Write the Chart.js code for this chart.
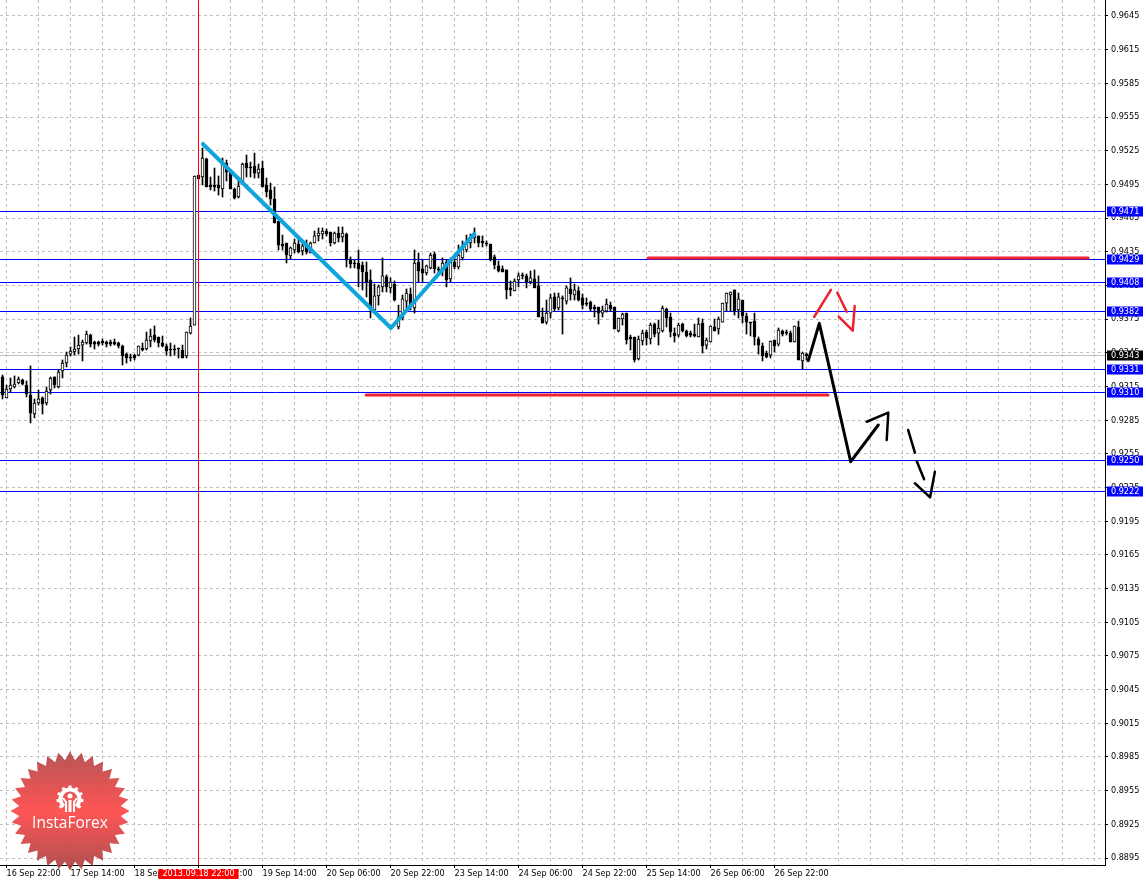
<!DOCTYPE html>
<html>
<head>
<meta charset="utf-8">
<title>H1 chart</title>
<script src="https://cdn.jsdelivr.net/npm/chart.js@4/dist/chart.umd.min.js"></script>
<style>
html, body { margin: 0; padding: 0; background: #fff; }
canvas { display: block; }
</style>
</head>
<body>
<canvas id="chart" width="1146" height="882"></canvas>
<script>
// One bar per hour
const opens = [
  .93235,.93048,.93128,.93146,.93181,.93208,.93163,.93074,.92905,.93003,
  .93048,.93003,.93119,.93235,.93146,.93288,.93359,.93439,.93457,.93484,
  .93519,.93537,.93608,.93546,.93546,.93555,.93546,.93546,.93546,.93537,
  .93511,.93439,.93413,.93430,.93430,.93493,.93484,.93555,.93608,.93591,
  .93537,.93511,.93484,.93484,.93493,.93475,.93422,.93626,.93697,.95033,
  .95016,.95176,.94944,.94944,.94944,.94909,.95140,.95060,.94909,.94838,
  .94971,.95140,.95105,.95114,.95051,.95096,.94944,.94900,.94820,.94624,
  .94419,.94428,.94313,.94366,.94419,.94357,.94410,.94339,.94428,.94491,
  .94508,.94535,.94526,.94428,.94517,.94482,.94508,.94277,.94250,.94250,
  .94232,.94170,.94099,.93831,.93957,.94037,.94126,.94028,.94063,.93680,
  .93760,.93911,.93974,.93849,.94259,.94197,.94161,.94206,.94330,.94197,
  .94197,.94259,.94108,.94259,.94215,.94295,.94366,.94428,.94473,.94491,
  .94446,.94428,.94419,.94304,.94224,.94197,.94188,.94028,.94001,.94099,
  .94143,.94135,.94081,.94108,.94046,.93769,.93724,.93804,.93948,.93849,
  .93939,.93911,.94019,.93965,.94001,.93939,.93893,.93902,.93858,.93858,
  .93804,.93822,.93875,.93858,.93644,.93751,.93804,.93591,.93591,.93395,
  .93555,.93635,.93573,.93706,.93626,.93644,.93840,.93769,.93626,.93608,
  .93706,.93644,.93626,.93617,.93591,.93715,.93519,.93546,.93680,.93662,
  .93724,.93893,.93965,.94010,.93831,.93920,.93778,.93724,.93733,.93573,
  .93511,.93448,.93430,.93564,.93528,.93644,.93635,.93626,.93546,.93680,
  .93377,.93439
];
const highs = [
  .93252,.93163,.93226,.93244,.93235,.93217,.93199,.93333,.93039,.93119,
  .93057,.93146,.93235,.93235,.93297,.93386,.93457,.93502,.93591,.93608,
  .93564,.93644,.93617,.93555,.93555,.93573,.93555,.93564,.93573,.93546,
  .93519,.93448,.93439,.93439,.93511,.93537,.93635,.93662,.93689,.93591,
  .93600,.93528,.93537,.93519,.93493,.93519,.93635,.93760,.95025,.95033,
  .95274,.95185,.95016,.95096,.95025,.95185,.95167,.95078,.94918,.95016,
  .95140,.95212,.95149,.95229,.95131,.95158,.95007,.94962,.94927,.94624,
  .94499,.94428,.94393,.94464,.94464,.94437,.94455,.94437,.94535,.94562,
  .94562,.94553,.94526,.94526,.94571,.94571,.94517,.94304,.94277,.94366,
  .94259,.94259,.94188,.94063,.94054,.94295,.94143,.94117,.94090,.93875,
  .93965,.94019,.94028,.94366,.94339,.94277,.94232,.94339,.94348,.94215,
  .94295,.94277,.94295,.94313,.94410,.94446,.94499,.94508,.94562,.94491,
  .94491,.94446,.94419,.94321,.94268,.94224,.94188,.94090,.94108,.94161,
  .94161,.94152,.94179,.94188,.94135,.93849,.93920,.93974,.93983,.93983,
  .93957,.94046,.94117,.94063,.94037,.93974,.93939,.93911,.93875,.93858,
  .93867,.93930,.93902,.93858,.93760,.93804,.93804,.93608,.93591,.93600,
  .93653,.93653,.93715,.93715,.93742,.93867,.93849,.93804,.93671,.93715,
  .93715,.93653,.93644,.93706,.93760,.93751,.93582,.93689,.93751,.93769,
  .93893,.93983,.93992,.94010,.93983,.93920,.93804,.93724,.93804,.93591,
  .93537,.93466,.93555,.93564,.93671,.93653,.93653,.93644,.93689,.93733,
  .93457,.93448
];
const lows = [
  .93039,.93048,.93101,.93137,.93172,.93163,.93057,.92825,.92870,.92985,
  .92905,.92985,.93083,.93137,.93137,.93226,.93324,.93422,.93430,.93439,
  .93377,.93528,.93502,.93484,.93511,.93519,.93502,.93511,.93519,.93493,
  .93341,.93359,.93377,.93386,.93422,.93466,.93475,.93502,.93546,.93502,
  .93502,.93430,.93422,.93430,.93404,.93404,.93404,.93617,.93697,.94998,
  .94944,.94927,.94900,.94891,.94855,.94838,.94980,.94909,.94820,.94829,
  .94971,.95016,.95016,.95007,.95007,.94927,.94838,.94766,.94606,.94366,
  .94366,.94250,.94286,.94339,.94339,.94321,.94330,.94339,.94428,.94446,
  .94464,.94491,.94402,.94419,.94437,.94437,.94215,.94206,.94206,.94037,
  .94010,.93948,.93760,.93822,.93875,.93992,.93992,.93983,.93911,.93662,
  .93742,.93831,.93831,.93804,.94081,.94081,.94143,.94197,.94161,.94161,
  .94135,.94037,.94081,.94197,.94197,.94277,.94348,.94384,.94428,.94393,
  .94393,.94402,.94268,.94197,.94170,.94170,.93930,.93957,.94001,.94037,
  .94108,.94028,.94063,.94028,.93769,.93715,.93706,.93760,.93822,.93831,
  .93617,.93884,.93920,.93920,.93911,.93840,.93867,.93822,.93769,.93706,
  .93769,.93813,.93822,.93662,.93635,.93697,.93528,.93475,.93368,.93386,
  .93519,.93519,.93528,.93591,.93519,.93635,.93680,.93591,.93546,.93591,
  .93635,.93591,.93591,.93591,.93591,.93448,.93484,.93546,.93644,.93617,
  .93724,.93822,.93822,.93786,.93760,.93715,.93617,.93600,.93519,.93439,
  .93377,.93404,.93404,.93457,.93511,.93600,.93608,.93546,.93546,.93386,
  .93306,.93386
];
const closes = [
  .93074,.93128,.93163,.93172,.93217,.93172,.93083,.92914,.93003,.93039,
  .92994,.93110,.93226,.93163,.93279,.93359,.93430,.93466,.93484,.93519,
  .93546,.93617,.93528,.93528,.93528,.93537,.93528,.93528,.93528,.93511,
  .93422,.93404,.93404,.93404,.93511,.93475,.93564,.93600,.93564,.93537,
  .93511,.93466,.93475,.93475,.93484,.93404,.93635,.93689,.95025,.94998,
  .95185,.94927,.94927,.94927,.94918,.95140,.95060,.94909,.94829,.94936,
  .95131,.95096,.95096,.95051,.95087,.94927,.94882,.94820,.94606,.94410,
  .94402,.94321,.94384,.94428,.94348,.94402,.94348,.94428,.94491,.94517,
  .94535,.94508,.94428,.94517,.94473,.94517,.94277,.94241,.94241,.94197,
  .94170,.94081,.93840,.93957,.94037,.94135,.94037,.94081,.93920,.93769,
  .93930,.93983,.93875,.94250,.94179,.94161,.94224,.94321,.94197,.94188,
  .94250,.94099,.94259,.94215,.94321,.94375,.94428,.94473,.94508,.94428,
  .94428,.94419,.94277,.94232,.94179,.94170,.94010,.94010,.94090,.94135,
  .94135,.94081,.94117,.94028,.93769,.93715,.93804,.93939,.93840,.93948,
  .93930,.94028,.93974,.94010,.93920,.93875,.93884,.93840,.93840,.93804,
  .93831,.93884,.93840,.93662,.93760,.93795,.93564,.93573,.93386,.93573,
  .93626,.93582,.93697,.93617,.93671,.93849,.93760,.93635,.93600,.93697,
  .93644,.93600,.93608,.93600,.93706,.93511,.93564,.93689,.93644,.93751,
  .93893,.93983,.93992,.93822,.93930,.93778,.93724,.93715,.93591,.93519,
  .93422,.93413,.93555,.93511,.93653,.93617,.93626,.93546,.93689,.93386,
  .93448,.93422
];

// Axis labels
const timeLabels = ['16 Sep 22:00', '17 Sep 14:00', '18 Sep 06:00', '18 Sep 22:00', '19 Sep 14:00',
  '20 Sep 06:00', '20 Sep 22:00', '23 Sep 14:00', '24 Sep 06:00', '24 Sep 22:00',
  '25 Sep 14:00', '26 Sep 06:00', '26 Sep 22:00'];
const priceTicks = [.8895, .8925, .8955, .8985, .9015, .9045, .9075, .9105, .9135, .9165, .9195, .9225, .9255,
  .9285, .9315, .9345, .9375, .9405, .9435, .9465, .9495, .9525, .9555, .9585, .9615, .9645];

// Horizontal levels and the marked bar
const blueLevels = [.94714, .94286, .94083, .93818, .93306, .93102, .92496, .92218];
const bidLevel = .9343;
const markedBar = 49;
const markedLabel = '2013.09.18 22:00';

// Hand drawn strokes, [bar index, price]
const cyanPath = [[50.1, .95310], [97.1, .93671], [117.9, .94508]];
const redTop = [[161.4, .94295], [271.4, .94295]];
const redBottom = [[90.9, .93074], [206.4, .93074]];
const redUp = [[202.9, .93769], [207.1, .94010]];
const redDown = [[208.7, .93986], [211.05, .93816]];
const redHead = [[209.05, .93772], [212.55, .93647], [213.05, .93867]];
const blackMain = [[201.45, .93380], [204.2, .93712], [212.05, .92480], [218.95, .92807]];
const blackHead = [[216.05, .92836], [221.45, .92917], [221.05, .92673]];
const dashOne = [[226.4, .92763], [228.1, .92560]];
const dashTwo = [[228.55, .92486], [230.4, .92323]];
const dashHead = [[228.1, .92288], [231.9, .92163], [233.1, .92391]];

const FONT = '"DejaVu Sans Condensed", "Liberation Sans", sans-serif';
const X_MIN = -0.625, X_MAX = 275.625;
const Y_MIN = 0.888879, Y_MAX = 0.965925;

function toPoints(path) {
    return path.map(p => ({ x: p[0], y: p[1] }));
}

function stroke(path, color, width) {
    return {
        type: 'line',
        data: toPoints(path),
        borderColor: color,
        borderWidth: width,
        borderCapStyle: 'round',
        borderJoinStyle: 'round',
        pointRadius: 0,
        tension: 0,
        fill: false,
        order: 1
    };
}

function bars(points, color, fill, thickness, border, order) {
    return {
        type: 'bar',
        data: points,
        backgroundColor: fill,
        borderColor: color,
        borderWidth: border,
        borderSkipped: false,
        barThickness: thickness,
        minBarLength: 1,
        grouped: false,
        order: order
    };
}

const wickPoints = highs.map((h, i) => ({ x: i, y: [lows[i], h] }));
const upPoints = [];
const downPoints = [];
opens.forEach((o, i) => {
    const point = { x: i, y: [o, closes[i]] };
    if (closes[i] >= o) upPoints.push(point);
    else downPoints.push(point);
});

// Levels go behind the candles
const levelsPlugin = {
    id: 'levels',
    beforeDatasetsDraw(chart) {
        const ctx = chart.ctx, area = chart.chartArea, y = chart.scales.y;
        ctx.save();
        ctx.lineWidth = 1;
        const line = (value, color) => {
            const py = Math.round(y.getPixelForValue(value)) + 0.5;
            ctx.strokeStyle = color;
            ctx.beginPath();
            ctx.moveTo(area.left, py);
            ctx.lineTo(area.right, py);
            ctx.stroke();
        };
        line(bidLevel, '#c0c0c0');
        blueLevels.forEach(v => line(v, '#0000ff'));
        ctx.restore();
    }
};

// Boxes on the axes and the logo
const labelsPlugin = {
    id: 'labels',
    afterDraw(chart) {
        const ctx = chart.ctx, x = chart.scales.x, y = chart.scales.y;
        ctx.save();
        ctx.font = '9px ' + FONT;
        ctx.textBaseline = 'middle';
        ctx.textAlign = 'left';
        const box = (value, bg) => {
            const py = Math.round(y.getPixelForValue(value)) + 0.5;
            ctx.fillStyle = bg;
            ctx.fillRect(1107, py - 5, 36, 10);
            ctx.fillStyle = '#fff';
            ctx.fillText(value.toFixed(4), 1111, py);
        };
        blueLevels.forEach(v => box(v, '#0000ff'));
        box(bidLevel, '#000');

        const mx = x.getPixelForValue(markedBar);
        ctx.fillStyle = '#ff0000';
        ctx.fillRect(mx - 40, 869, 80, 10);
        ctx.fillStyle = '#fff';
        ctx.textAlign = 'center';
        ctx.fillText(markedLabel, mx, 874);
        drawLogo(ctx, 70, 811);
        ctx.restore();
    }
};

function drawLogo(ctx, cx, cy) {
    const spikes = 32;
    ctx.beginPath();
    for (let i = 0; i < spikes * 2; i++) {
        const r = i % 2 ? 51 : 59.5;
        const a = i * Math.PI / spikes - Math.PI / 2;
        ctx.lineTo(cx + r * Math.cos(a), cy + r * Math.sin(a));
    }
    ctx.closePath();
    const grad = ctx.createLinearGradient(0, cy - 59, 0, cy + 59);
    grad.addColorStop(0, 'rgba(178,70,70,0.92)');
    grad.addColorStop(0.5, 'rgba(255,76,76,0.95)');
    grad.addColorStop(1, 'rgba(170,66,66,0.92)');
    ctx.fillStyle = grad;
    ctx.fill();

    // gear
    const gx = cx, gy = cy - 12;
    ctx.strokeStyle = '#fff';
    ctx.fillStyle = '#fff';
    ctx.lineWidth = 4;
    ctx.beginPath();
    ctx.arc(gx, gy, 9.5, Math.PI * 0.72, Math.PI * 0.28 + Math.PI * 2);
    ctx.stroke();
    ctx.lineWidth = 3;
    for (let i = 0; i < 9; i++) {
        const a = Math.PI * (0.78 + i * 0.18);
        ctx.beginPath();
        ctx.moveTo(gx + 10 * Math.cos(a), gy + 10 * Math.sin(a));
        ctx.lineTo(gx + 13.5 * Math.cos(a), gy + 13.5 * Math.sin(a));
        ctx.stroke();
    }
    ctx.beginPath();
    ctx.arc(gx, gy - 3, 2.5, 0, Math.PI * 2);
    ctx.fill();
    ctx.lineWidth = 2;
    ctx.beginPath();
    ctx.moveTo(gx - 4, gy + 13);
    ctx.lineTo(gx - 4, gy + 3);
    ctx.lineTo(gx - 7, gy - 1);
    ctx.moveTo(gx + 4, gy + 13);
    ctx.lineTo(gx + 4, gy + 3);
    ctx.lineTo(gx + 7, gy - 1);
    ctx.stroke();
    ctx.fillRect(gx - 1.5, gy + 1, 3, 12);

    ctx.font = '15.5px "Open Sans", "Liberation Sans", sans-serif';
    ctx.textAlign = 'center';
    ctx.textBaseline = 'middle';
    ctx.fillText('InstaForex', cx, cy + 13);
}

const gridTicks = [];
for (let i = 1; i < X_MAX; i += 8) gridTicks.push({ value: i });

new Chart(document.getElementById('chart'), {
    type: 'bar',
    data: {
        datasets: [
            stroke(cyanPath, '#0ea5dc', 4),
            stroke(redTop, '#ee2230', 3),
            stroke(redBottom, '#ee2230', 3),
            stroke(redUp, '#ee2230', 2.5),
            stroke(redDown, '#ee2230', 2.5),
            stroke(redHead, '#ee2230', 2.5),
            stroke(blackMain, '#000', 3),
            stroke(blackHead, '#000', 2.5),
            stroke(dashOne, '#000', 2.5),
            stroke(dashTwo, '#000', 2.5),
            stroke(dashHead, '#000', 2.5),
            Object.assign(stroke([[markedBar, Y_MIN], [markedBar, Y_MAX]], '#ff0000', 1), { order: 2, borderCapStyle: 'butt' }),
            bars(upPoints, '#000', '#fff', 3, 1, 3),
            bars(downPoints, '#000', '#000', 3, 1, 3),
            bars(wickPoints, '#000', '#000', 1, 0, 4)
        ]
    },
    options: {
        responsive: false,
        animation: false,
        devicePixelRatio: 1,
        layout: { padding: 0 },
        plugins: { legend: { display: false }, tooltip: { enabled: false } },
        events: [],
        scales: {
            x: {
                type: 'linear',
                min: X_MIN,
                max: X_MAX,
                offset: false,
                afterBuildTicks: s => { s.ticks = gridTicks.map(t => ({ value: t.value })); },
                afterFit: s => { s.height = 17; s.paddingLeft = 0; s.paddingRight = 0; },
                grid: {
                    offset: false,
                    color: '#c0c0c0',
                    tickLength: 3,
                    tickColor: c => ((c.tick && (c.tick.value - 1) % 16 === 0 && (c.tick.value - 1) / 16 < timeLabels.length) ? '#000' : 'rgba(0,0,0,0)')
                },
                border: { color: '#000', width: 1, dash: [3, 3] },
                ticks: {
                    autoSkip: false,
                    maxRotation: 0,
                    align: 'start',
                    padding: 0,
                    color: '#000',
                    font: { family: FONT, size: 9 },
                    callback: v => ((v - 1) % 16 === 0 ? (timeLabels[(v - 1) / 16] || '') : '')
                }
            },
            y: {
                position: 'right',
                min: Y_MIN,
                max: Y_MAX,
                beginAtZero: false,
                afterBuildTicks: s => { s.ticks = priceTicks.map(v => ({ value: v })); },
                afterFit: s => { s.width = 41; s.paddingTop = 0; s.paddingBottom = 0; },
                grid: { color: '#c0c0c0', tickLength: 3, tickColor: '#000' },
                border: { color: '#000', width: 1, dash: [3, 3] },
                ticks: {
                    autoSkip: false,
                    padding: 3,
                    color: '#000',
                    font: { family: FONT, size: 9 },
                    callback: v => v.toFixed(4)
                }
            }
        }
    },
    plugins: [levelsPlugin, labelsPlugin]
});
</script>
</body>
</html>
